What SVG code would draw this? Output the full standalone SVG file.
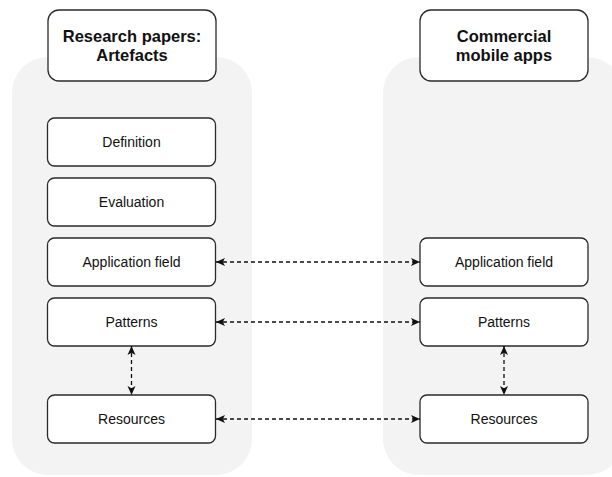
<svg xmlns="http://www.w3.org/2000/svg" width="612" height="477" viewBox="0 0 612 477">
  <style>
    .panel { fill: #f3f3f3; stroke: none; }
    .box { fill: #ffffff; stroke: #2a2a2a; stroke-width: 1.3; }
    .head { font-family: "Liberation Sans", Arial, sans-serif; font-size: 16.5px; font-weight: bold; fill: #111; text-anchor: middle; }
    .lbl { font-family: "Liberation Sans", Arial, sans-serif; font-size: 14px; fill: #111; text-anchor: middle; }
    .conn { fill: none; stroke: #111; stroke-width: 1.3; stroke-dasharray: 4 3; }
  </style>
  <defs>
    <marker id="arr" markerUnits="userSpaceOnUse" markerWidth="10" markerHeight="10" refX="9" refY="4" orient="auto-start-reverse" viewBox="0 0 10 8">
      <path d="M0,0 L9,4 L0,8 L2.2,4 z" fill="#111"/>
    </marker>
  </defs>

  <g id="panel-left"><rect class="panel" x="12" y="57" width="240" height="418" rx="36" ry="36"/></g>
  <g id="panel-right"><rect class="panel" x="383" y="57" width="240" height="418" rx="36" ry="36"/></g>

  <g id="head-left">
    <rect class="box" x="48" y="10" width="168" height="71" rx="11"/>
    <text class="head" x="132" y="42">Research papers:</text>
    <text class="head" x="132" y="61">Artefacts</text>
  </g>
  <g id="head-right">
    <rect class="box" x="420" y="10" width="168" height="71" rx="11"/>
    <text class="head" x="504" y="42">Commercial</text>
    <text class="head" x="504" y="61">mobile apps</text>
  </g>

  <g id="l-definition">
    <rect class="box" x="47.5" y="118" width="168" height="48" rx="7"/>
    <text class="lbl" x="131.5" y="147">Definition</text>
  </g>
  <g id="l-evaluation">
    <rect class="box" x="47.5" y="178" width="168" height="48" rx="7"/>
    <text class="lbl" x="131.5" y="207">Evaluation</text>
  </g>
  <g id="l-appfield">
    <rect class="box" x="47.5" y="238" width="168" height="48" rx="7"/>
    <text class="lbl" x="131.5" y="267">Application field</text>
  </g>
  <g id="l-patterns">
    <rect class="box" x="47.5" y="298" width="168" height="48" rx="7"/>
    <text class="lbl" x="131.5" y="327">Patterns</text>
  </g>
  <g id="l-resources">
    <rect class="box" x="47.5" y="395" width="168" height="48" rx="7"/>
    <text class="lbl" x="131.5" y="424">Resources</text>
  </g>

  <g id="r-appfield">
    <rect class="box" x="420" y="238" width="168" height="48" rx="7"/>
    <text class="lbl" x="504" y="267">Application field</text>
  </g>
  <g id="r-patterns">
    <rect class="box" x="420" y="298" width="168" height="48" rx="7"/>
    <text class="lbl" x="504" y="327">Patterns</text>
  </g>
  <g id="r-resources">
    <rect class="box" x="420" y="395" width="168" height="48" rx="7"/>
    <text class="lbl" x="504" y="424">Resources</text>
  </g>

  <g id="connectors">
    <line class="conn" x1="216" y1="262" x2="420" y2="262" marker-start="url(#arr)" marker-end="url(#arr)"/>
    <line class="conn" x1="216" y1="322" x2="420" y2="322" marker-start="url(#arr)" marker-end="url(#arr)"/>
    <line class="conn" x1="216" y1="419" x2="420" y2="419" marker-start="url(#arr)" marker-end="url(#arr)"/>
    <line class="conn" x1="131.5" y1="346" x2="131.5" y2="395" marker-start="url(#arr)" marker-end="url(#arr)"/>
    <line class="conn" x1="504" y1="346" x2="504" y2="395" marker-start="url(#arr)" marker-end="url(#arr)"/>
  </g>
</svg>
